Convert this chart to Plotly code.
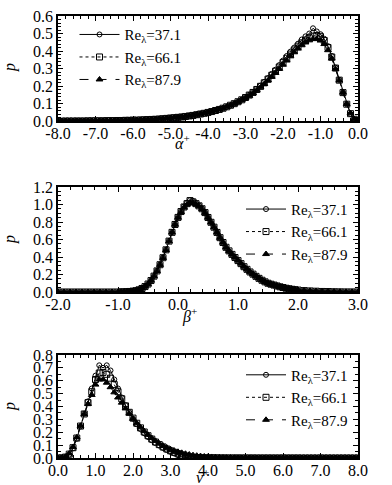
import plotly.graph_objects as go

# ---------------- data ----------------
SERIES_NAMES = ["Re<sub>λ</sub>=37.1", "Re<sub>λ</sub>=66.1", "Re<sub>λ</sub>=87.9"]

# tick labels
A_XTICKS = [-8.0, -7.0, -6.0, -5.0, -4.0, -3.0, -2.0, -1.0, 0.0]
A_YTICKS = [0.0, 0.1, 0.2, 0.3, 0.4, 0.5, 0.6]
B_XTICKS = [-2.0, -1.0, 0.0, 1.0, 2.0, 3.0]
B_YTICKS = [0.0, 0.2, 0.4, 0.6, 0.8, 1.0, 1.2]
N_XTICKS = [0.0, 1.0, 2.0, 3.0, 4.0, 5.0, 6.0, 7.0, 8.0]
N_YTICKS = [0.0, 0.1, 0.2, 0.3, 0.4, 0.5, 0.6, 0.7, 0.8]

# panel 1 : alpha+
A_X = [-8.0, -7.9, -7.8, -7.7, -7.6, -7.5, -7.4, -7.3, -7.2, -7.1,
       -7.0, -6.9, -6.8, -6.7, -6.6, -6.5, -6.4, -6.3, -6.2, -6.1,
       -6.0, -5.9, -5.8, -5.7, -5.6, -5.5, -5.4, -5.3, -5.2, -5.1,
       -5.0, -4.9, -4.8, -4.7, -4.6, -4.5, -4.4, -4.3, -4.2, -4.1,
       -4.0, -3.9, -3.8, -3.7, -3.6, -3.5, -3.4, -3.3, -3.2, -3.1,
       -3.0, -2.9, -2.8, -2.7, -2.6, -2.5, -2.4, -2.3, -2.2, -2.1,
       -2.0, -1.9, -1.8, -1.7, -1.6, -1.5, -1.4, -1.3, -1.2, -1.1,
       -1.0, -0.9, -0.8, -0.7, -0.6, -0.5, -0.4, -0.3, -0.2, -0.1,
       0.0]
A_S1 = [0.000, 0.000, 0.000, 0.000, 0.000, 0.001, 0.001, 0.001, 0.001, 0.001,
        0.001, 0.001, 0.002, 0.002, 0.002, 0.003, 0.003, 0.003, 0.004, 0.004,
        0.005, 0.005, 0.006, 0.007, 0.008, 0.009, 0.010, 0.011, 0.013, 0.015,
        0.017, 0.019, 0.021, 0.023, 0.026, 0.029, 0.032, 0.036, 0.040, 0.044,
        0.049, 0.054, 0.060, 0.066, 0.073, 0.081, 0.090, 0.100, 0.111, 0.123,
        0.136, 0.151, 0.167, 0.184, 0.203, 0.224, 0.246, 0.270, 0.294, 0.320,
        0.346, 0.372, 0.397, 0.420, 0.442, 0.466, 0.484, 0.500, 0.530, 0.512,
        0.496, 0.470, 0.428, 0.372, 0.306, 0.236, 0.164, 0.097, 0.042, 0.010,
        0.000]
A_S2 = [0.000, 0.000, 0.001, 0.001, 0.001, 0.001, 0.001, 0.001, 0.002, 0.002,
        0.002, 0.002, 0.002, 0.003, 0.003, 0.003, 0.004, 0.004, 0.005, 0.005,
        0.006, 0.006, 0.007, 0.008, 0.009, 0.010, 0.011, 0.012, 0.014, 0.016,
        0.018, 0.020, 0.022, 0.024, 0.027, 0.030, 0.033, 0.037, 0.041, 0.045,
        0.050, 0.055, 0.061, 0.067, 0.074, 0.082, 0.091, 0.100, 0.111, 0.122,
        0.135, 0.149, 0.164, 0.181, 0.199, 0.219, 0.240, 0.262, 0.285, 0.309,
        0.334, 0.359, 0.383, 0.406, 0.428, 0.447, 0.463, 0.476, 0.485, 0.489,
        0.482, 0.460, 0.420, 0.366, 0.303, 0.234, 0.163, 0.097, 0.043, 0.011,
        0.000]
A_S3 = [0.001, 0.001, 0.001, 0.001, 0.001, 0.002, 0.002, 0.002, 0.002, 0.002,
        0.002, 0.003, 0.003, 0.003, 0.004, 0.004, 0.004, 0.005, 0.005, 0.006,
        0.007, 0.007, 0.008, 0.009, 0.010, 0.011, 0.012, 0.014, 0.015, 0.017,
        0.019, 0.021, 0.023, 0.025, 0.028, 0.031, 0.034, 0.038, 0.042, 0.046,
        0.050, 0.055, 0.061, 0.067, 0.074, 0.082, 0.090, 0.099, 0.109, 0.120,
        0.132, 0.145, 0.160, 0.176, 0.193, 0.212, 0.232, 0.253, 0.275, 0.298,
        0.322, 0.346, 0.370, 0.393, 0.414, 0.433, 0.449, 0.461, 0.468, 0.469,
        0.460, 0.440, 0.405, 0.357, 0.298, 0.232, 0.163, 0.098, 0.045, 0.012,
        0.001]

# panel 2 : beta+
B_X = [-2.0, -1.9, -1.8, -1.7, -1.6, -1.5, -1.4, -1.3, -1.2, -1.1,
       -1.00, -0.95, -0.90, -0.85, -0.80, -0.75, -0.70, -0.65, -0.60, -0.55,
       -0.50, -0.45, -0.40, -0.35, -0.30, -0.25, -0.20, -0.15, -0.10, -0.05,
       0.00, 0.05, 0.10, 0.15, 0.20, 0.25, 0.30, 0.35, 0.40, 0.45,
       0.50, 0.55, 0.60, 0.65, 0.70, 0.75, 0.80, 0.85, 0.90, 0.95,
       1.00, 1.05, 1.10, 1.15, 1.20, 1.25, 1.30, 1.35, 1.40, 1.45,
       1.50, 1.55, 1.60, 1.65, 1.70, 1.75, 1.80, 1.85, 1.90, 1.95,
       2.0, 2.1, 2.2, 2.3, 2.4, 2.5, 2.6, 2.7, 2.8, 2.9,
       3.0]
B_S1 = [0.000, 0.000, 0.000, 0.000, 0.000, 0.000, 0.000, 0.000, 0.000, 0.000,
        0.000, 0.001, 0.002, 0.003, 0.006, 0.010, 0.016, 0.026, 0.041, 0.063,
        0.092, 0.132, 0.182, 0.243, 0.314, 0.394, 0.484, 0.584, 0.684, 0.775,
        0.858, 0.925, 0.978, 1.020, 1.050, 1.040, 1.015, 0.990, 0.955, 0.910,
        0.855, 0.798, 0.742, 0.680, 0.620, 0.563, 0.508, 0.466, 0.426, 0.391,
        0.356, 0.321, 0.287, 0.257, 0.227, 0.202, 0.177, 0.154, 0.132, 0.114,
        0.098, 0.087, 0.077, 0.067, 0.058, 0.050, 0.042, 0.036, 0.030, 0.025,
        0.021, 0.015, 0.011, 0.008, 0.006, 0.004, 0.003, 0.002, 0.001, 0.001,
        0.000]
B_S2 = [0.000, 0.000, 0.000, 0.000, 0.000, 0.000, 0.000, 0.000, 0.000, 0.000,
        0.000, 0.001, 0.002, 0.004, 0.006, 0.010, 0.015, 0.025, 0.040, 0.062,
        0.091, 0.131, 0.181, 0.241, 0.312, 0.392, 0.482, 0.582, 0.682, 0.772,
        0.853, 0.920, 0.972, 1.010, 1.045, 1.030, 1.010, 0.985, 0.952, 0.908,
        0.852, 0.797, 0.741, 0.681, 0.621, 0.566, 0.511, 0.470, 0.430, 0.394,
        0.359, 0.324, 0.289, 0.259, 0.229, 0.204, 0.179, 0.156, 0.134, 0.116,
        0.100, 0.089, 0.079, 0.069, 0.059, 0.051, 0.043, 0.037, 0.031, 0.026,
        0.022, 0.016, 0.012, 0.009, 0.006, 0.005, 0.003, 0.002, 0.001, 0.001,
        0.000]
B_S3 = [0.000, 0.000, 0.000, 0.000, 0.000, 0.000, 0.000, 0.000, 0.000, 0.000,
        0.000, 0.001, 0.002, 0.004, 0.006, 0.010, 0.015, 0.025, 0.040, 0.062,
        0.090, 0.130, 0.180, 0.240, 0.310, 0.390, 0.480, 0.580, 0.680, 0.770,
        0.850, 0.915, 0.965, 1.000, 1.020, 1.015, 1.000, 0.980, 0.950, 0.905,
        0.850, 0.795, 0.740, 0.680, 0.620, 0.565, 0.510, 0.470, 0.430, 0.395,
        0.360, 0.325, 0.290, 0.260, 0.230, 0.205, 0.180, 0.157, 0.135, 0.117,
        0.100, 0.090, 0.080, 0.070, 0.060, 0.052, 0.044, 0.038, 0.032, 0.027,
        0.023, 0.017, 0.013, 0.010, 0.007, 0.005, 0.004, 0.003, 0.002, 0.001,
        0.001]

# panel 3 : nu+
N_X = [0.0, 0.1, 0.2, 0.3, 0.4, 0.5, 0.6, 0.7, 0.8, 0.9,
       1.0, 1.1, 1.2, 1.3, 1.4, 1.5, 1.6, 1.7, 1.8, 1.9,
       2.0, 2.1, 2.2, 2.3, 2.4, 2.5, 2.6, 2.7, 2.8, 2.9,
       3.0, 3.1, 3.2, 3.3, 3.4, 3.5, 3.6, 3.7, 3.8, 3.9,
       4.0, 4.1, 4.2, 4.3, 4.4, 4.5, 4.6, 4.7, 4.8, 4.9,
       5.0, 5.1, 5.2, 5.3, 5.4, 5.5, 5.6, 5.7, 5.8, 5.9,
       6.0, 6.1, 6.2, 6.3, 6.4, 6.5, 6.6, 6.7, 6.8, 6.9,
       7.0, 7.1, 7.2, 7.3, 7.4, 7.5, 7.6, 7.7, 7.8, 7.9,
       8.0]
N_S1 = [0.000, 0.000, 0.005, 0.025, 0.075, 0.150, 0.245, 0.345, 0.440, 0.540,
        0.640, 0.720, 0.700, 0.720, 0.680, 0.610, 0.540, 0.470, 0.410, 0.355,
        0.305, 0.262, 0.225, 0.192, 0.163, 0.138, 0.116, 0.096, 0.078, 0.062,
        0.048, 0.035, 0.022, 0.012, 0.005, 0.001, 0.000, 0.000, 0.000, 0.000,
        0.000, 0.000, 0.000, 0.000, 0.000, 0.000, 0.000, 0.000, 0.000, 0.000,
        0.000, 0.000, 0.000, 0.000, 0.000, 0.000, 0.000, 0.000, 0.000, 0.000,
        0.000, 0.000, 0.000, 0.000, 0.000, 0.000, 0.000, 0.000, 0.000, 0.000,
        0.000, 0.000, 0.000, 0.000, 0.000, 0.000, 0.000, 0.000, 0.000, 0.000,
        0.000]
N_S2 = [0.000, 0.001, 0.007, 0.030, 0.080, 0.155, 0.248, 0.342, 0.430, 0.515,
        0.610, 0.660, 0.665, 0.650, 0.620, 0.570, 0.515, 0.460, 0.405, 0.355,
        0.310, 0.270, 0.234, 0.202, 0.173, 0.147, 0.124, 0.104, 0.086, 0.070,
        0.056, 0.044, 0.033, 0.023, 0.015, 0.009, 0.005, 0.003, 0.002, 0.001,
        0.001, 0.001, 0.001, 0.000, 0.000, 0.000, 0.000, 0.000, 0.000, 0.000,
        0.000, 0.000, 0.000, 0.000, 0.000, 0.000, 0.000, 0.000, 0.000, 0.000,
        0.000, 0.000, 0.000, 0.000, 0.000, 0.000, 0.000, 0.000, 0.000, 0.000,
        0.000, 0.000, 0.000, 0.000, 0.000, 0.000, 0.000, 0.000, 0.000, 0.000,
        0.000]
N_S3 = [0.000, 0.002, 0.010, 0.035, 0.085, 0.160, 0.250, 0.340, 0.420, 0.490,
        0.570, 0.610, 0.610, 0.585, 0.550, 0.510, 0.470, 0.430, 0.385, 0.345,
        0.305, 0.270, 0.238, 0.208, 0.180, 0.155, 0.133, 0.113, 0.096, 0.081,
        0.068, 0.057, 0.048, 0.040, 0.033, 0.027, 0.022, 0.018, 0.015, 0.012,
        0.010, 0.008, 0.007, 0.006, 0.005, 0.004, 0.004, 0.003, 0.003, 0.002,
        0.002, 0.002, 0.002, 0.001, 0.001, 0.001, 0.001, 0.001, 0.001, 0.001,
        0.001, 0.001, 0.001, 0.001, 0.001, 0.000, 0.000, 0.000, 0.000, 0.000,
        0.000, 0.000, 0.000, 0.000, 0.000, 0.000, 0.000, 0.000, 0.000, 0.000,
        0.000]

# ---------------- styles ----------------
FONT = "Liberation Serif"
STYLES = [
    dict(dash="solid", symbol="circle-open", size=5),
    dict(dash="dot", symbol="square-open", size=6),
    dict(dash="dash", symbol="triangle-up", size=6),
]

fig = go.Figure()

panels = [
    ("x", "y", "legend", A_X, [A_S1, A_S2, A_S3]),
    ("x2", "y2", "legend2", B_X, [B_S1, B_S2, B_S3]),
    ("x3", "y3", "legend3", N_X, [N_S1, N_S2, N_S3]),
]
for xa, ya, lg, xs, ys_list in panels:
    for name, ys, st in zip(SERIES_NAMES, ys_list, STYLES):
        fig.add_trace(go.Scatter(
            x=xs, y=ys, xaxis=xa, yaxis=ya, legend=lg, name=name,
            mode="lines+markers", cliponaxis=True,
            line=dict(color="black", width=1, dash=st["dash"]),
            marker=dict(symbol=st["symbol"], size=st["size"], color="black",
                        line=dict(color="black", width=1)),
        ))

def label(v):
    return ("%.1f" % v).replace("\u2212", "-")

def axis(rng, ticks, minor_dtick, domain=None, anchor=None, standoff=0):
    d = dict(range=rng, tickmode="array", tickvals=ticks,
             ticktext=[label(v) for v in ticks],
             showgrid=False, zeroline=False, showline=True, linecolor="black",
             linewidth=1.5, mirror="allticks", ticks="inside", ticklen=5,
             tickcolor="black", tickwidth=1, automargin=False,
             ticklabelstandoff=standoff,
             tickfont=dict(family=FONT, size=16, color="black"),
             minor=dict(ticks="inside", ticklen=3, dtick=minor_dtick,
                        tick0=0, tickcolor="black", tickwidth=1,
                        showgrid=False))
    if domain is not None:
        d["domain"] = domain
    if anchor is not None:
        d["anchor"] = anchor
    return d

Y1 = [0.762, 1.0]
Y2 = [0.3756, 0.613]
Y3 = [0.0, 0.233]

legend_common = dict(bgcolor="rgba(0,0,0,0)", borderwidth=0,
                     font=dict(family=FONT, size=15, color="black"),
                     xanchor="left", yanchor="top", tracegroupgap=0,
                     itemwidth=40)

fig.update_layout(
    width=392, height=485,
    margin=dict(l=58, r=34, t=16, b=27, autoexpand=False),
    paper_bgcolor="white", plot_bgcolor="white",
    font=dict(family=FONT, size=15, color="black"),
    xaxis=axis([-8.0, 0.0], A_XTICKS, 0.2, anchor="y", standoff=-3),
    yaxis=axis([0.0, 0.6], A_YTICKS, 0.02, domain=Y1, anchor="x"),
    xaxis2=axis([-2.0, 3.0], B_XTICKS, 0.2, anchor="y2", standoff=-3),
    yaxis2=axis([0.0, 1.2], B_YTICKS, 0.05, domain=Y2, anchor="x2"),
    xaxis3=axis([0.0, 8.0], N_XTICKS, 0.2, anchor="y3", standoff=-3),
    yaxis3=axis([0.0, 0.8], N_YTICKS, 0.05, domain=Y3, anchor="x3"),
    legend=dict(x=0.055, y=0.995, **legend_common),
    legend2=dict(x=0.61, y=0.600, **legend_common),
    legend3=dict(x=0.61, y=0.225, **legend_common),
    showlegend=True,
)

def px_to_paper(px, py):
    return (px - 58) / 300.0, (458 - py) / 442.0

for txt, (px, py), ang in [
    ("<i>p</i>", (10, 68), -90),
    ("<i>p</i>", (10, 240), -90),
    ("<i>p</i>", (10, 407), -90),
    ("<i>α</i><sup>+</sup>", (182, 142), 0),
    ("<i>β</i><sup>+</sup>", (189, 315), 0),
    ("<i>ν</i><sup>+</sup>", (202, 476), 0),
]:
    xx, yy = px_to_paper(px, py)
    fig.add_annotation(text=txt, x=xx, y=yy, xref="paper", yref="paper",
                       showarrow=False, textangle=ang,
                       xanchor="center", yanchor="middle",
                       font=dict(family=FONT, size=16, color="black"))

fig.write_html("out.html")
